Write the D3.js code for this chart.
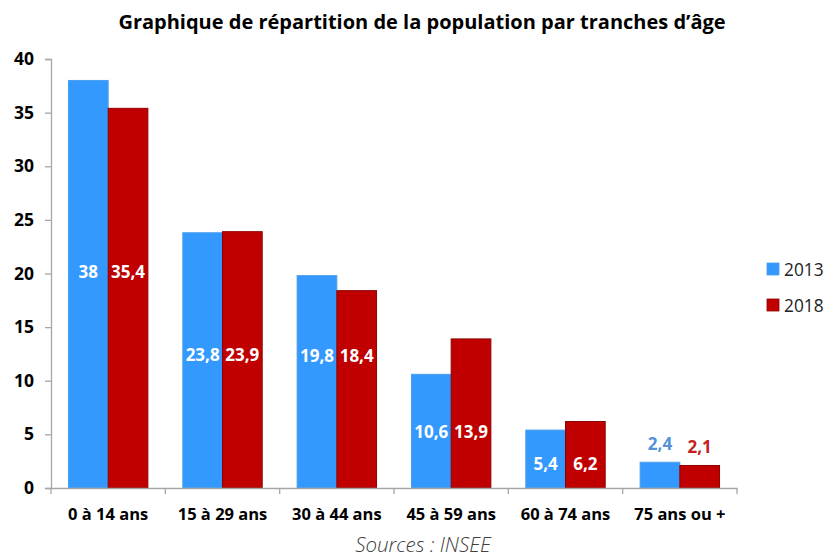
<!DOCTYPE html>
<html><head><meta charset="utf-8">
<script src="https://cdn.jsdelivr.net/npm/d3@7"></script>
<style>body{margin:0;background:#fff}svg{display:block}</style>
</head><body>
<svg id="c" width="827" height="558"></svg>
<script>
const categories = ["0 à 14 ans","15 à 29 ans","30 à 44 ans","45 à 59 ans","60 à 74 ans","75 ans ou +"];
const series = ["2013","2018"];
const values2013 = [38, 23.8, 19.8, 10.6, 5.4, 2.4];
const values2018 = [35.4, 23.9, 18.4, 13.9, 6.2, 2.1];
const yTicks = [0,5,10,15,20,25,30,35,40];
const title = "Graphique de répartition de la population par tranches d’âge";
const source = "Sources : INSEE";

// layout: vertical anchor of the in-bar labels, in value units (as placed in the reference)
const labelLevel = [20.1, 12.4, 12.3, 5.2, 2.2, null];

(function(){
const colors = {"2013":"#3399FF","2018":"#C00000"};
const strokes = {"2013":"#4A9EEA","2018":"#8E0000"};
const outsideColors = {"2013":"#5592DA","2018":"#C42222"};
const font = "'Open Sans', 'Noto Sans', sans-serif";

const svg = d3.select("#c");
const mLeft = 51, mRight = 737, mTop = 59, mBottom = 488;

const x = d3.scaleBand().domain(categories).range([mLeft, mRight]).padding(0);
const xs = d3.scaleBand().domain(series).range([0, x.bandwidth()]).paddingInner(0).paddingOuter(0.44);
const y = d3.scaleLinear().domain([0, 40]).range([mBottom, mTop]);

// title
svg.append("text").attr("x", 422).attr("y", 29).attr("text-anchor","middle")
  .attr("font-family", font).attr("font-weight","bold").attr("font-size", 20)
  .attr("fill","#000").text(title);

// y axis
const yAxis = svg.append("g").attr("transform", `translate(${mLeft},0)`)
  .call(d3.axisLeft(y).tickValues(yTicks).tickSize(6).tickPadding(11).tickFormat(d3.format("d")));
yAxis.select(".domain").attr("stroke","#a6a6a6").attr("stroke-width",1.3);
yAxis.selectAll(".tick line").attr("stroke","#a6a6a6").attr("stroke-width",1.3);
yAxis.selectAll(".tick text").attr("font-family", font).attr("font-weight","bold")
  .attr("font-size", 17.5).attr("fill","#000");

// bars
const data = categories.map((c,i)=>({cat:c, i, vals:[{s:"2013",v:values2013[i]},{s:"2018",v:values2018[i]}]}));
const g = svg.append("g");
const groups = g.selectAll("g.cat").data(data).join("g").attr("class","cat")
  .attr("transform", d=>`translate(${x(d.cat)},0)`);
groups.selectAll("rect").data(d=>d.vals).join("rect")
  .attr("x", d=>xs(d.s)).attr("width", xs.bandwidth())
  .attr("y", d=>y(d.v)).attr("height", d=>mBottom - y(d.v))
  .attr("fill", d=>colors[d.s]).attr("stroke", d=>strokes[d.s]).attr("stroke-width",1);

// labels
groups.each(function(d){
  const gg = d3.select(this);
  d.vals.forEach(v=>{
    const inside = labelLevel[d.i] !== null;
    gg.append("text")
      .attr("x", xs(v.s) + xs.bandwidth()/2)
      .attr("y", inside ? y(labelLevel[d.i]) : y(v.v) - 12)
      .attr("dy", inside ? "0.35em" : "0")
      .attr("text-anchor","middle")
      .attr("font-family", font).attr("font-weight","bold").attr("font-size", 17)
      .attr("fill", inside ? "#fff" : outsideColors[v.s])
      .text(String(v.v).replace(".", ","));
  });
});

// x axis
const xAxis = svg.append("g").attr("transform", `translate(0,${mBottom})`)
  .call(d3.axisBottom(x).tickSize(0).tickPadding(20));
xAxis.select(".domain").attr("stroke","#a6a6a6").attr("stroke-width",1.3);
xAxis.selectAll(".tick text").attr("font-family", font).attr("font-weight","bold")
  .attr("font-size", 16.5).attr("fill","#000");
// category boundary ticks
const bounds = categories.map(c=>x(c)).concat([mRight]);
xAxis.selectAll("line.b").data(bounds).join("line").attr("class","b")
  .attr("x1", d=>d).attr("x2", d=>d).attr("y1",0).attr("y2",6)
  .attr("stroke","#a6a6a6").attr("stroke-width",1.3);

// legend
const lg = svg.append("g").attr("transform","translate(767,263)");
series.forEach((s,i)=>{
  lg.append("rect").attr("x",0).attr("y", i*36).attr("width",12).attr("height",12)
    .attr("fill", colors[s]).attr("stroke", strokes[s]).attr("stroke-width",0.8);
  lg.append("text").attr("x",17).attr("y", i*36+12.5)
    .attr("font-family", font).attr("font-size",17.3).attr("fill","#222").text(s);
});

// source
svg.append("text").attr("x", 423).attr("y", 552).attr("text-anchor","middle")
  .attr("font-family", font).attr("font-style","italic").attr("font-weight",300).attr("font-size",20.5)
  .attr("fill","#404040").text(source);
})();
</script>
</body></html>
